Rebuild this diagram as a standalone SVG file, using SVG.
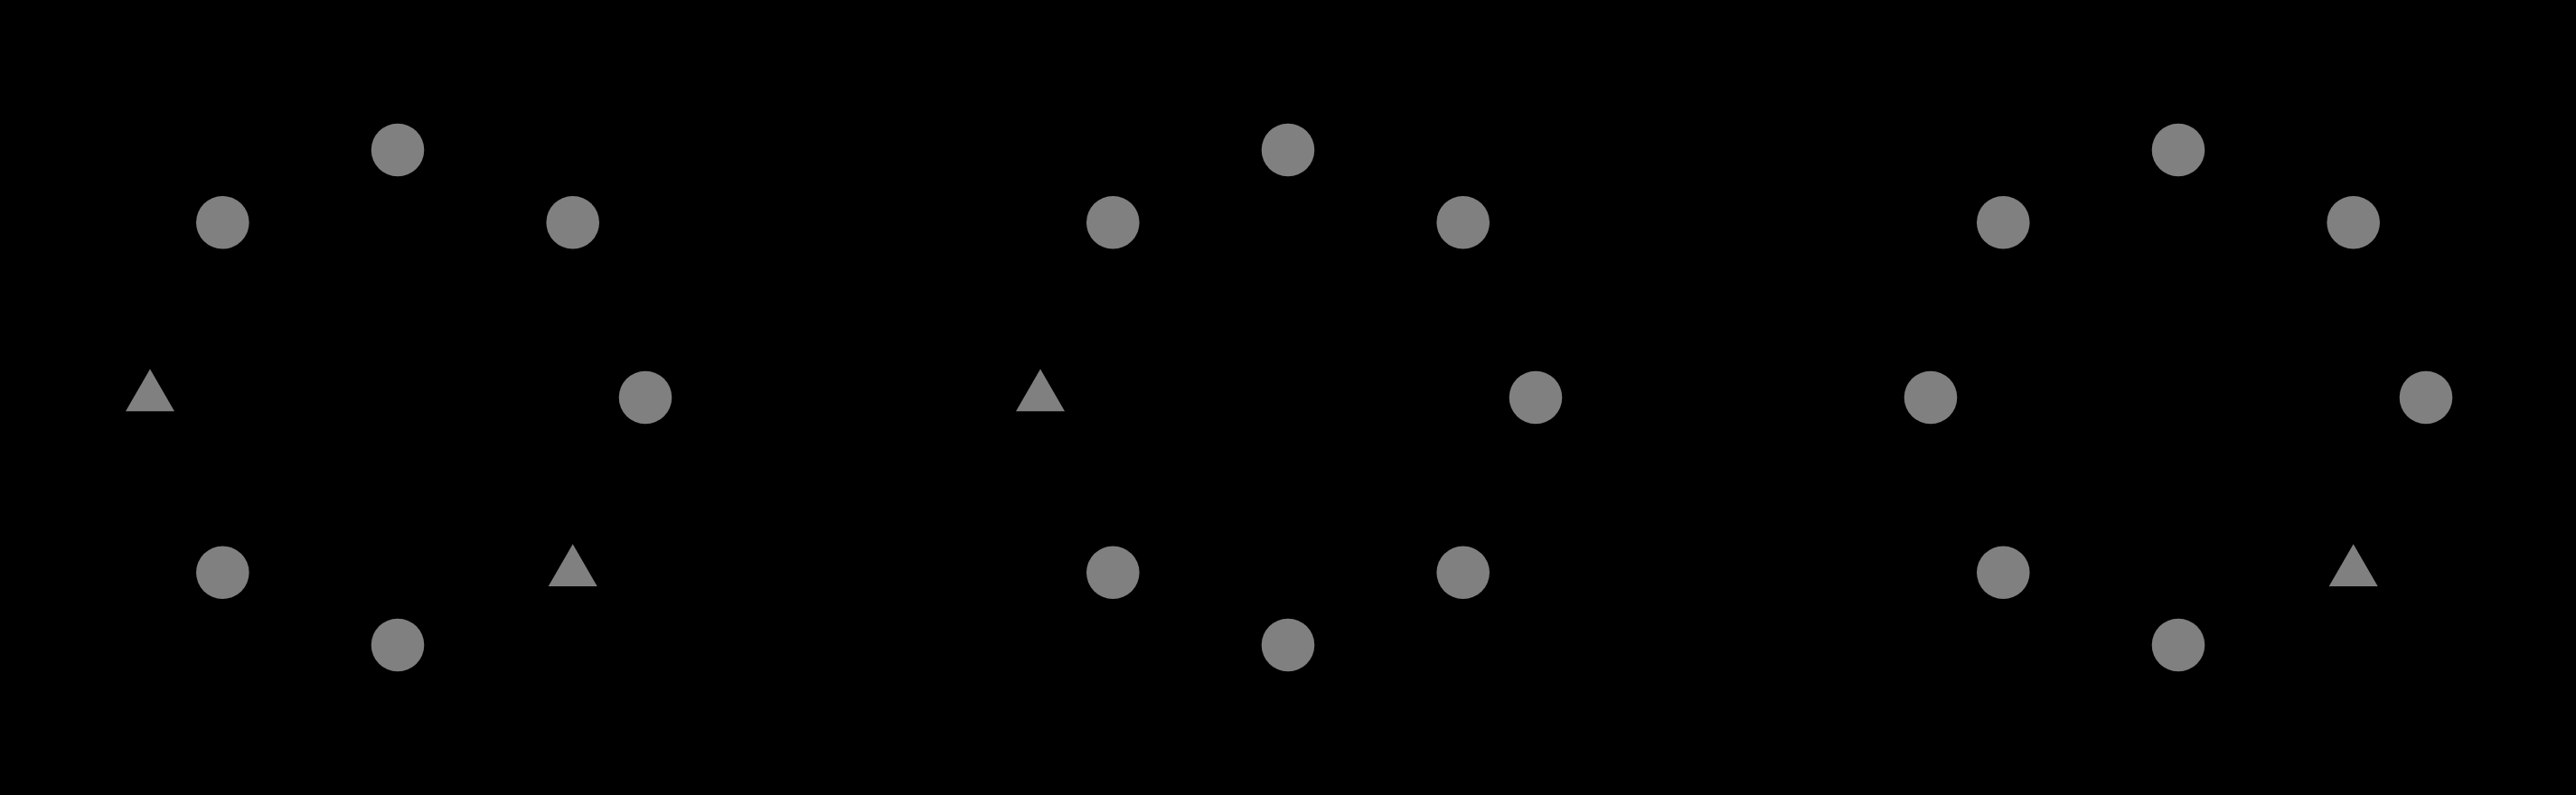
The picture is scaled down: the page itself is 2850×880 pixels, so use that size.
<svg xmlns="http://www.w3.org/2000/svg" xmlns:xlink="http://www.w3.org/1999/xlink" width="2850" height="880" viewBox="0 0 2850 880">
<style>
.n{fill:#808080;stroke:none}
</style>
<defs>
<circle id="dot" class="n" cx="0" cy="0" r="29.3"/>
<polygon id="tri" class="n" points="0,-31.5 27,15.3 -27,15.3"/>
</defs>
<rect x="0" y="0" width="2850" height="880" fill="#000000"/>
<g id="connectors"></g>
<g id="group1">
<g id="g1-n"><use xlink:href="#dot" x="440" y="166"/></g>
<g id="g1-ne"><use xlink:href="#dot" x="633.7" y="246.3"/></g>
<g id="g1-e"><use xlink:href="#dot" x="714" y="440"/></g>
<g id="g1-se"><use xlink:href="#tri" x="633.7" y="633.7"/></g>
<g id="g1-s"><use xlink:href="#dot" x="440" y="714"/></g>
<g id="g1-sw"><use xlink:href="#dot" x="246.3" y="633.7"/></g>
<g id="g1-w"><use xlink:href="#tri" x="166" y="440"/></g>
<g id="g1-nw"><use xlink:href="#dot" x="246.3" y="246.3"/></g>
</g>
<g id="group2">
<g id="g2-n"><use xlink:href="#dot" x="1425" y="166"/></g>
<g id="g2-ne"><use xlink:href="#dot" x="1618.7" y="246.3"/></g>
<g id="g2-e"><use xlink:href="#dot" x="1699" y="440"/></g>
<g id="g2-se"><use xlink:href="#dot" x="1618.7" y="633.7"/></g>
<g id="g2-s"><use xlink:href="#dot" x="1425" y="714"/></g>
<g id="g2-sw"><use xlink:href="#dot" x="1231.3" y="633.7"/></g>
<g id="g2-w"><use xlink:href="#tri" x="1151" y="440"/></g>
<g id="g2-nw"><use xlink:href="#dot" x="1231.3" y="246.3"/></g>
</g>
<g id="group3">
<g id="g3-n"><use xlink:href="#dot" x="2410" y="166"/></g>
<g id="g3-ne"><use xlink:href="#dot" x="2603.7" y="246.3"/></g>
<g id="g3-e"><use xlink:href="#dot" x="2684" y="440"/></g>
<g id="g3-se"><use xlink:href="#tri" x="2603.7" y="633.7"/></g>
<g id="g3-s"><use xlink:href="#dot" x="2410" y="714"/></g>
<g id="g3-sw"><use xlink:href="#dot" x="2216.3" y="633.7"/></g>
<g id="g3-w"><use xlink:href="#dot" x="2136" y="440"/></g>
<g id="g3-nw"><use xlink:href="#dot" x="2216.3" y="246.3"/></g>
</g>
</svg>
